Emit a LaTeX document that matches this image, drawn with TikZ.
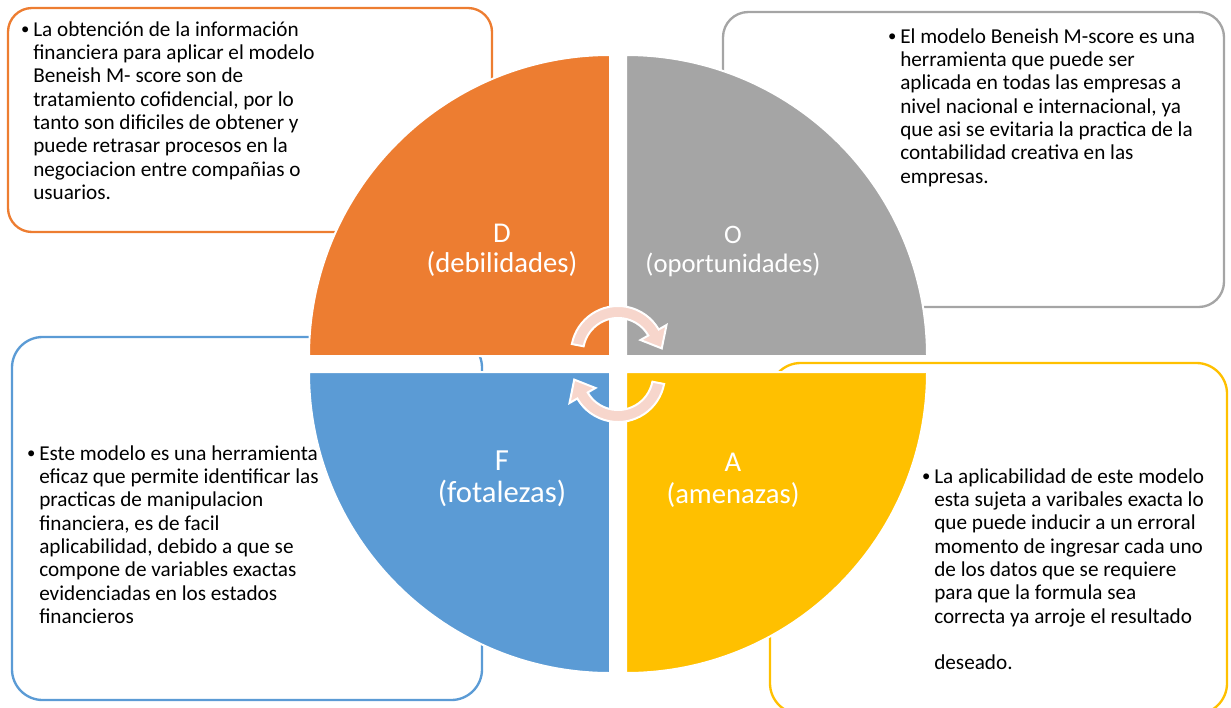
\documentclass[tikz,border=0pt]{standalone}
\usepackage{fontspec}
\setmainfont{Carlito}
\definecolor{naranja}{HTML}{ED7D31}
\definecolor{gris}{HTML}{A5A5A5}
\definecolor{amarillo}{HTML}{FFC000}
\definecolor{azul}{HTML}{5B9BD5}
\definecolor{rosado}{HTML}{F7D6CC}
\tikzset{
  caja/.style={line width=1.75pt},
  cuadrante/.style={draw=white, line width=1.5pt},
  texto/.style={anchor=base west, inner sep=0pt, font=\fontsize{15.9}{17.5}\selectfont},
  vineta/.style={anchor=base east, inner sep=0pt, xshift=-2.5pt, yshift=1pt, font=\fontsize{12.5}{14}\selectfont},
  titulo/.style={text=white, align=center, inner sep=0pt},
  flecha/.style={fill=rosado, draw=white, line width=1.5pt}
}

\begin{document}
\begin{tikzpicture}[x=0.75pt, y=-0.75pt]
  \useasboundingbox (0,0) rectangle (1231,707);
  % cajas
  \draw[caja, naranja, rounded corners=18pt] (8,8) rectangle (492,232);
  \draw[caja, gris, rounded corners=19pt] (723,12) rectangle (1224,307);
  \draw[caja, azul, rounded corners=23pt] (12,337) rectangle (482,700);
  \draw[caja, amarillo, rounded corners=23pt] (770,363) rectangle (1227,714);
  % textos
  \node[texto] (debtexto) at (33,36) {\begin{tabular}[t]{@{}l@{}}
    La obtención de la información\\
    financiera para aplicar el modelo\\
    Beneish M- score son de\\
    tratamiento cofidencial, por lo\\
    tanto son dificiles de obtener y\\
    puede retrasar procesos en la\\
    negociacion entre compañias o\\
    usuarios.
  \end{tabular}};
  \node[vineta] (debvineta) at (debtexto.base west) {\textbullet};
  \node[texto] (optexto) at (900,43) {\begin{tabular}[t]{@{}l@{}}
    El modelo Beneish M-score es una\\
    herramienta que puede ser\\
    aplicada en todas las empresas a\\
    nivel nacional e internacional, ya\\
    que asi se evitaria la practica de la\\
    contabilidad creativa en las\\
    empresas.
  \end{tabular}};
  \node[vineta] (opvineta) at (optexto.base west) {\textbullet};
  \node[texto] (fortexto) at (39,460) {\begin{tabular}[t]{@{}l@{}}
    Este modelo es una herramienta\\
    eficaz que permite identificar las\\
    practicas de manipulacion\\
    financiera, es de facil\\
    aplicabilidad, debido a que se\\
    compone de variables exactas\\
    evidenciadas en los estados\\
    financieros
  \end{tabular}};
  \node[vineta] (forvineta) at (fortexto.base west) {\textbullet};
  \node[texto] (amtexto) at (934,483) {\begin{tabular}[t]{@{}l@{}}
    La aplicabilidad de este modelo\\
    esta sujeta a varibales exacta lo\\
    que puede inducir a un erroral\\
    momento de ingresar cada uno\\
    de los datos que se requiere\\
    para que la formula sea\\
    correcta ya arroje el resultado\\
    \\
    deseado.
  \end{tabular}};
  \node[vineta] (amvineta) at (amtexto.base west) {\textbullet};
  % cuadrantes
  \path[cuadrante, fill=naranja] (610,356) -- (309,356) arc[start angle=180, end angle=270, radius=301] -- cycle;
  \path[cuadrante, fill=gris] (626,356) -- (626,55) arc[start angle=270, end angle=360, radius=301] -- cycle;
  \path[cuadrante, fill=amarillo] (626,372) -- (927,372) arc[start angle=0, end angle=90, radius=301] -- cycle;
  \path[cuadrante, fill=azul] (610,372) -- (610,673) arc[start angle=90, end angle=180, radius=301] -- cycle;
  \node[titulo, font=\fontsize{21.5}{22.5}\selectfont] (debtitulo) at (502,250) {D\\(debilidades)};
  \node[titulo, font=\fontsize{20}{21.75}\selectfont] (optitulo) at (733,251) {O\\(oportunidades)};
  \node[titulo, font=\fontsize{23}{24}\selectfont] (fortitulo) at (502,479) {F\\(fotalezas)};
  \node[titulo, font=\fontsize{21.5}{24}\selectfont] (amtitulo) at (733,480) {A\\(amenazas)};
  % flechas del centro
  \begin{scope}[shift={(618,353)}]
    \path[flecha] (191:47) arc[start angle=191, end angle=330, radius=47] -- (330:56)
      -- (354:44) -- (330:26) -- (330:35) arc[start angle=330, end angle=191, radius=35] -- cycle;
  \end{scope}
  \begin{scope}[shift={(618,375)}, rotate=180]
    \path[flecha] (191:47) arc[start angle=191, end angle=330, radius=47] -- (330:56)
      -- (354:44) -- (330:26) -- (330:35) arc[start angle=330, end angle=191, radius=35] -- cycle;
  \end{scope}
\end{tikzpicture}
\end{document}
